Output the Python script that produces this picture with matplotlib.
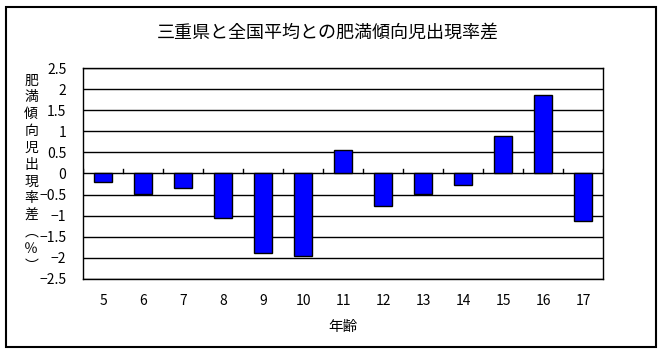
import matplotlib
matplotlib.use('Agg')
import matplotlib.pyplot as plt
from matplotlib.patches import Rectangle
import numpy as np

plt.rcParams['font.family'] = ['Noto Sans CJK JP', 'DejaVu Sans']

# data
ages = ['5', '6', '7', '8', '9', '10', '11', '12', '13', '14', '15', '16', '17']
diff = [-0.20, -0.49, -0.34, -1.06, -1.88, -1.96, 0.55, -0.76, -0.49, -0.28, 0.88, 1.87, -1.12]
yticks = [2.5, 2, 1.5, 1, 0.5, 0, -0.5, -1, -1.5, -2, -2.5]

title = '三重県と全国平均との肥満傾向児出現率差'
ylabel_chars = ['肥', '満', '傾', '向', '児', '出', '現', '率', '差', '︵', '％', '︶']
xlabel = '年齢'

fig = plt.figure(figsize=(6.62, 3.54), dpi=100)
ax = fig.add_axes([0.1254, 0.2119, 0.7855, 0.596])

x = np.arange(len(ages))
ax.bar(x, diff, width=0.46, color='#0000ff', edgecolor='black', linewidth=1, zorder=3)

# horizontal gridlines
for v in yticks:
    ax.axhline(v, color='black', linewidth=1, zorder=1)

# category tick marks on the zero line
for b in np.arange(len(ages) + 1) - 0.5:
    ax.plot([b, b], [0, 0.1], color='black', linewidth=1, zorder=2)

ax.set_xlim(-0.5, len(ages) - 0.5)
ax.set_ylim(-2.5, 2.5)
ax.set_yticks(yticks)
ax.set_yticklabels([('%g' % v).replace('-', '−') for v in yticks], fontsize=10)
ax.set_xticks(x)
ax.set_xticklabels(ages, fontsize=10)
ax.tick_params(axis='y', length=0, pad=12)
ax.tick_params(axis='x', length=0, pad=11)
for s in ax.spines.values():
    s.set_color('black')
    s.set_linewidth(1)

fig.text(0.495, 0.907, title, ha='center', va='center', fontsize=13)
fig.text(0.047, 0.511, '\n'.join(ylabel_chars), ha='center', va='center',
         fontsize=10, linespacing=1.26)
fig.text(0.518, 0.076, xlabel, ha='center', va='center', fontsize=10.5)

# outer frame
fig.patches.append(Rectangle((6 / 662, 7 / 354), 650 / 662, 340 / 354, transform=fig.transFigure,
                             fill=False, edgecolor='black', linewidth=1.5))

fig.savefig('out.png', dpi=100)
